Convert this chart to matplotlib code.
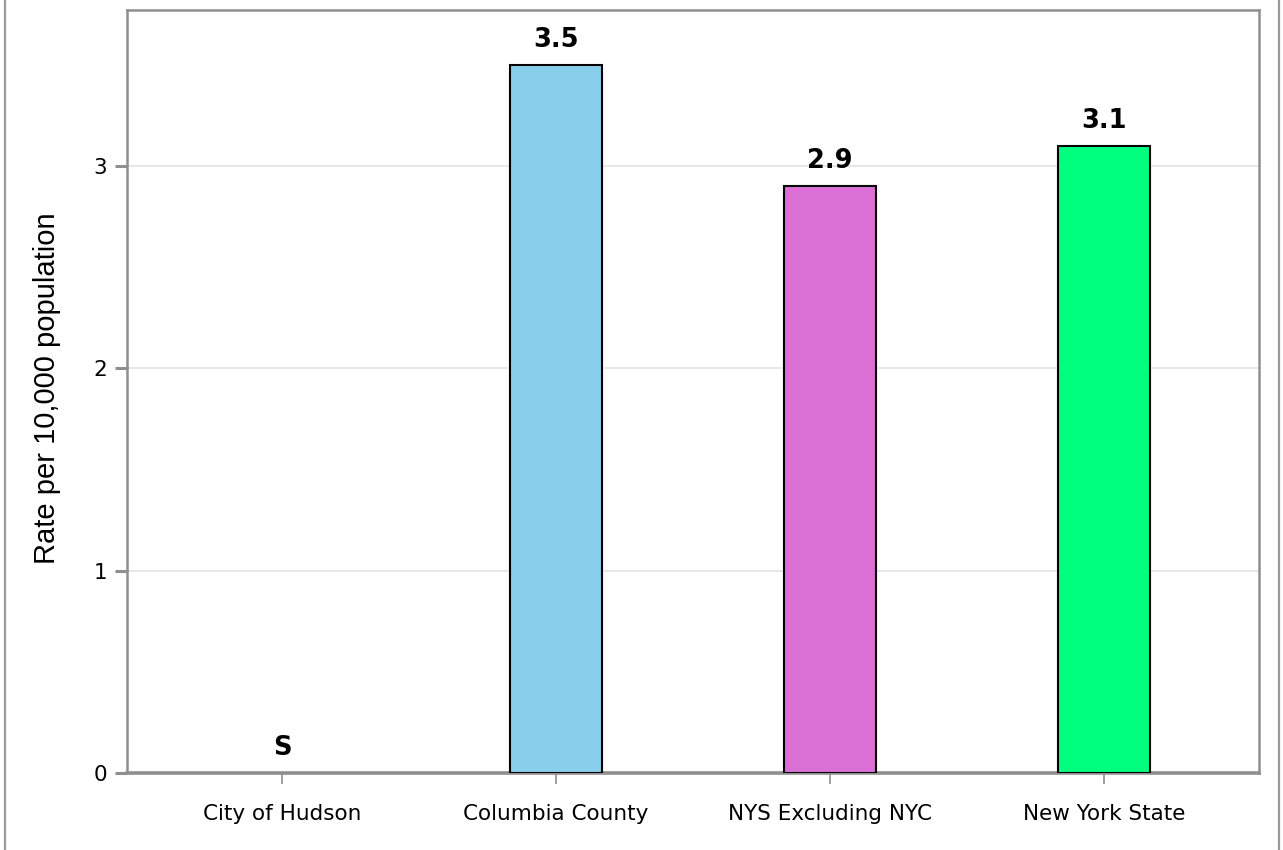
import matplotlib
matplotlib.use("Agg")
import matplotlib.pyplot as plt
from matplotlib.patches import Rectangle

categories = ["City of Hudson", "Columbia County", "NYS Excluding NYC", "New York State"]
values = [0.0, 3.5, 2.9, 3.1]
labels = ["S", "3.5", "2.9", "3.1"]
colors = ["#FFFFFF", "#87CEEB", "#DA70D6", "#00FF7F"]
yticks = [0, 1, 2, 3]

plt.rcParams['font.family'] = ['DejaVu Sans']

W, H = 1283, 850
fig = plt.figure(figsize=(W/100, H/100), dpi=100)
ax = fig.add_axes([127/W, 1 - 773/H, (1259-127)/W, (773-10)/H])

xs = list(range(len(categories)))
for x, v, c in zip(xs, values, colors):
    if v > 0:
        ax.bar(x, v, width=0.336, color=c, edgecolor='black', linewidth=1.5, zorder=3)
for x, v, l in zip(xs, values, labels):
    ax.annotate(l, (x, v), xytext=(0, 8.5), textcoords='offset points',
                ha='center', va='bottom', fontsize=18.5, fontweight='bold', zorder=4)

ax.set_xlim(-0.566, 3.566)
ax.set_ylim(0, 3.77)
ax.set_xticks(xs)
ax.set_xticklabels(categories, fontsize=15.5)
ax.set_yticks(yticks)
ax.set_yticklabels([str(t) for t in yticks], fontsize=15.5)
ax.yaxis.grid(True, color='#E3E3E3', linewidth=1.2, zorder=0)
ax.set_axisbelow(True)
for s in ax.spines.values():
    s.set_color('#8F8F8F')
    s.set_linewidth(1.8)
ax.spines['bottom'].set_linewidth(2.6)
ax.tick_params(axis='x', colors='#8F8F8F', labelcolor='black', length=8, width=1.2, pad=14)
ax.tick_params(axis='y', colors='#8F8F8F', labelcolor='black', length=8.5, width=2.2, pad=6)

fig.text(47/W, 1 - 388/H, "Rate per 10,000 population", rotation=90, ha='center', va='center',
         fontsize=21, family=['Liberation Sans', 'DejaVu Sans'])

fig.patches.append(Rectangle((5/W, -0.1), (1279-5)/W, 1.2, transform=fig.transFigure,
                             fill=False, edgecolor='#9A9A9A', linewidth=1.6))

fig.savefig("out.png", dpi=100)
